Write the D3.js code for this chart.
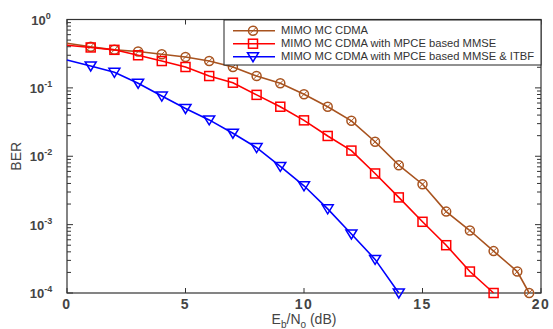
<!DOCTYPE html>
<html>
<head>
<meta charset="utf-8">
<script src="https://cdn.jsdelivr.net/npm/d3@7"></script>
<style>
  body { margin: 0; background: #fff; }
  svg { display: block; }
  text { font-family: "Liberation Sans", Arial, sans-serif; }
</style>
</head>
<body>
<svg width="553" height="329"></svg>
<script>
// Eb/No in dB
const snrMC = [0, 1, 2, 3, 4, 5, 6, 7, 8, 9, 10, 11, 12, 13, 14, 15, 16, 17, 18, 19, 19.5];
const berMC = [0.45, 0.40, 0.36, 0.34, 0.31, 0.283, 0.247, 0.202, 0.149, 0.117, 0.0806,
    0.053, 0.033, 0.0163, 0.0074, 0.0039, 0.00155, 0.00082, 0.00041, 0.000206, 0.0001];

const snrMMSE = [0, 1, 2, 3, 4, 5, 6, 7, 8, 9, 10, 11, 12, 13, 14, 15, 16, 17, 18];
const berMMSE = [0.42, 0.39, 0.36, 0.30, 0.247, 0.202, 0.149, 0.119, 0.079, 0.053, 0.0335,
    0.0198, 0.0121, 0.0056, 0.0025, 0.0011, 0.0005, 0.000206, 0.0001];

const snrITBF = [0, 1, 2, 3, 4, 5, 6, 7, 8, 9, 10, 11, 12, 13, 14];
const berITBF = [0.256, 0.209, 0.169, 0.117, 0.076, 0.050, 0.034, 0.0217, 0.0134, 0.0071,
    0.0037, 0.0017, 0.00073, 0.00031, 0.0001];

const seriesNames = [
    "MIMO MC CDMA",
    "MIMO MC CDMA with MPCE based MMSE",
    "MIMO MC CDMA with MPCE based MMSE & ITBF"
];
const xTicks = [0, 5, 10, 15, 20];
const yExponents = [0, -1, -2, -3, -4];

const series = [
    { name: seriesNames[0], x: snrMC, y: berMC, color: "#a8531f", marker: "circle" },
    { name: seriesNames[1], x: snrMMSE, y: berMMSE, color: "#ff0000", marker: "square" },
    { name: seriesNames[2], x: snrITBF, y: berITBF, color: "#0000ff", marker: "triangle" }
];

const svg = d3.select("svg");
const margin = { left: 67, right: 12, top: 19.5, bottom: 36 };
const W = 553, H = 329;

const x = d3.scaleLinear().domain([0, 20]).range([margin.left, W - margin.right]);
const y = d3.scaleLog().domain([1e-4, 1]).range([H - margin.bottom, margin.top]);

const axisColor = "#333";
const labelColor = "#444";

// frame
svg.append("rect")
    .attr("x", x(0)).attr("y", y(1))
    .attr("width", x(20) - x(0)).attr("height", y(1e-4) - y(1))
    .attr("fill", "none").attr("stroke", axisColor).attr("stroke-width", 1.2);

// ticks (inward, all four sides)
const minorVals = [];
for (let e = -4; e < 0; e++) {
    for (let m = 2; m <= 9; m++) minorVals.push(m * Math.pow(10, e));
}
const tickG = svg.append("g").attr("stroke", axisColor).attr("stroke-width", 1);
yExponents.forEach(e => {
    const yy = y(Math.pow(10, e));
    tickG.append("line").attr("x1", x(0)).attr("x2", x(0) + 6).attr("y1", yy).attr("y2", yy);
    tickG.append("line").attr("x1", x(20)).attr("x2", x(20) - 6).attr("y1", yy).attr("y2", yy);
});
minorVals.forEach(v => {
    const yy = y(v);
    tickG.append("line").attr("x1", x(0)).attr("x2", x(0) + 4).attr("y1", yy).attr("y2", yy);
    tickG.append("line").attr("x1", x(20)).attr("x2", x(20) - 4).attr("y1", yy).attr("y2", yy);
});
xTicks.forEach(t => {
    tickG.append("line").attr("x1", x(t)).attr("x2", x(t)).attr("y1", y(1e-4)).attr("y2", y(1e-4) - 5);
    tickG.append("line").attr("x1", x(t)).attr("x2", x(t)).attr("y1", y(1)).attr("y2", y(1) + 5);
});

// x tick labels
svg.append("g").selectAll("text").data(xTicks).join("text")
    .attr("x", d => x(d)).attr("y", y(1e-4) + 16)
    .attr("text-anchor", "middle")
    .attr("font-size", 14).attr("font-weight", "bold")
    .attr("letter-spacing", 1.5)
    .attr("fill", labelColor)
    .text(d => d);

// y tick labels 10^e
const yLab = svg.append("g").selectAll("text").data(yExponents).join("text")
    .attr("x", x(0) - 26).attr("y", d => y(Math.pow(10, d)) + 5)
    .attr("text-anchor", "middle")
    .attr("font-size", 13).attr("font-weight", "bold")
    .attr("fill", labelColor);
yLab.append("tspan").text("10");
yLab.append("tspan").attr("dy", -6).attr("font-size", 9).text(d => d);

// axis labels
svg.append("text")
    .attr("transform", `translate(21,${(y(1) + y(1e-4)) / 2}) rotate(-90)`)
    .attr("text-anchor", "middle")
    .attr("font-size", 14).attr("fill", labelColor)
    .text("BER");

const xl = svg.append("text")
    .attr("x", (x(0) + x(20)) / 2).attr("y", 324)
    .attr("text-anchor", "middle")
    .attr("font-size", 14).attr("fill", labelColor);
xl.append("tspan").text("E");
xl.append("tspan").attr("dy", 4).attr("font-size", 10).text("b");
xl.append("tspan").attr("dy", -4).text("/N");
xl.append("tspan").attr("dy", 4).attr("font-size", 10).text("o");
xl.append("tspan").attr("dy", -4).text(" (dB)");

// markers
function drawMarker(g, type, color, cx, cy) {
    if (type === "circle") {
        g.append("circle").attr("cx", cx).attr("cy", cy).attr("r", 4.5)
            .attr("fill", "none").attr("stroke", color).attr("stroke-width", 1.5);
        g.append("line").attr("x1", cx - 3).attr("y1", cy + 3).attr("x2", cx + 3).attr("y2", cy - 3)
            .attr("stroke", color).attr("stroke-width", 1);
    } else if (type === "square") {
        g.append("rect").attr("x", cx - 4.5).attr("y", cy - 4.5).attr("width", 9).attr("height", 9)
            .attr("fill", "none").attr("stroke", color).attr("stroke-width", 1.5);
    } else {
        g.append("path")
            .attr("d", `M${cx - 5.5},${cy - 4}L${cx + 5.5},${cy - 4}L${cx},${cy + 5}Z`)
            .attr("fill", "none").attr("stroke", color).attr("stroke-width", 1.5);
    }
}

const line = d3.line().x(d => x(d[0])).y(d => y(d[1]));
series.forEach(s => {
    const pts = s.x.map((v, i) => [v, s.y[i]]);
    const g = svg.append("g");
    g.append("path").datum(pts).attr("d", line)
        .attr("fill", "none").attr("stroke", s.color).attr("stroke-width", 1.6);
    pts.filter(p => p[0] > 0).forEach(p => drawMarker(g, s.marker, s.color, x(p[0]), y(p[1])));
});

// legend
const lg = svg.append("g");
const lx = 224, ly = 20, lw = 317, lh = 45;
lg.append("rect").attr("x", lx).attr("y", ly).attr("width", lw).attr("height", lh)
    .attr("fill", "#fff").attr("stroke", "#222").attr("stroke-width", 1);
series.forEach((s, i) => {
    const yy = ly + 10.7 + i * 13;
    lg.append("line").attr("x1", lx + 9).attr("x2", lx + 51).attr("y1", yy).attr("y2", yy)
        .attr("stroke", s.color).attr("stroke-width", 1.6);
    drawMarker(lg, s.marker, s.color, lx + 29, yy);
    // reference text is slightly stretched horizontally
    lg.append("text")
        .attr("transform", `translate(${lx + 57},${yy + 3.5}) scale(1.12,1)`)
        .attr("font-size", 10).attr("fill", "#333")
        .text(s.name);
});
</script>
</body>
</html>
